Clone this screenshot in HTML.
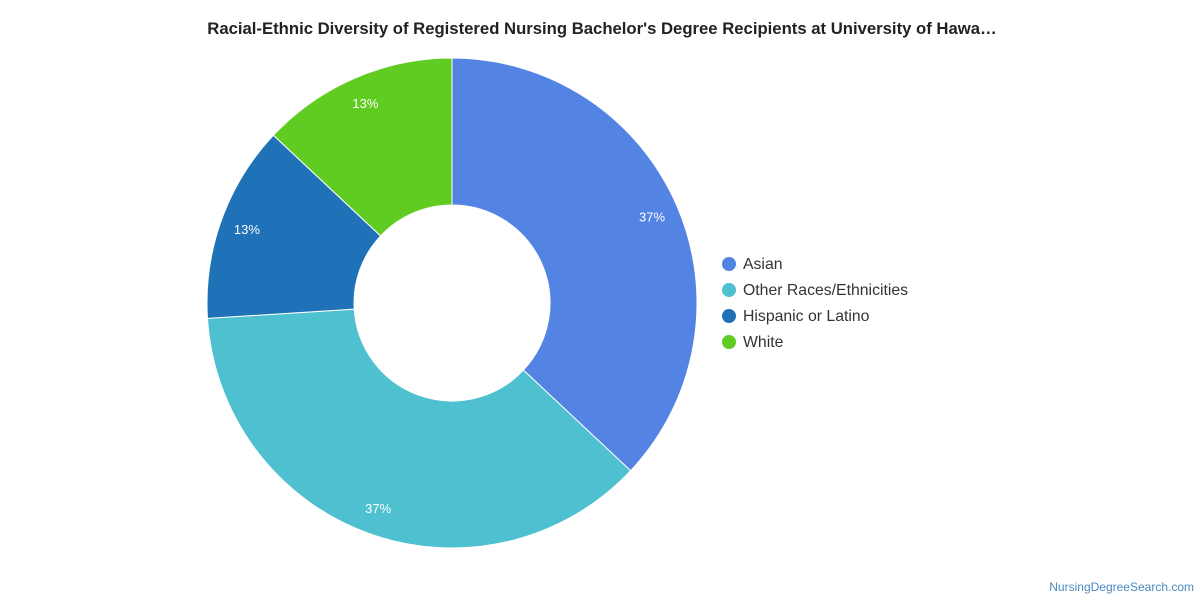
<!DOCTYPE html>
<html><head><meta charset="utf-8"><style>
body{margin:0;background:#fff;font-family:"Liberation Sans",sans-serif;}
svg{display:block}
</style></head><body>
<svg width="1200" height="600">
<text x="602" y="34" text-anchor="middle" font-size="16.7" font-weight="bold" fill="#222">Racial-Ethnic Diversity of Registered Nursing Bachelor's Degree Recipients at University of Hawa…</text>
<g id="slices"></g>
<g id="labels"></g>
<g id="legend"></g>
<text x="1194" y="591" text-anchor="end" font-size="12" fill="#4a8ac2">NursingDegreeSearch.com</text>
</svg>
<script>
const categories=["Asian","Other Races/Ethnicities","Hispanic or Latino","White"];
const values=[37,37,13,13];
const colors=["#5484e3","#4fc0cf","#1f72b8","#60cc22"];
const cx=452,cy=303,R=245,r=98,LR=218;
const ns="http://www.w3.org/2000/svg";
const total=values.reduce((a,b)=>a+b,0);
function pt(a,rad){return [cx+rad*Math.sin(a),cy-rad*Math.cos(a)];}
let a0=0;
const sg=document.getElementById('slices'),lg=document.getElementById('labels'),leg=document.getElementById('legend');
values.forEach((v,i)=>{
 const a1=a0+v/total*2*Math.PI;
 const large=(a1-a0)>Math.PI?1:0;
 const [x0,y0]=pt(a0,R),[x1,y1]=pt(a1,R),[x2,y2]=pt(a1,r),[x3,y3]=pt(a0,r);
 const p=document.createElementNS(ns,'path');
 p.setAttribute('d',`M${x0},${y0}A${R},${R} 0 ${large} 1 ${x1},${y1}L${x2},${y2}A${r},${r} 0 ${large} 0 ${x3},${y3}Z`);
 p.setAttribute('fill',colors[i]);p.setAttribute('stroke','#fff');p.setAttribute('stroke-width','1');
 
 
 sg.appendChild(p);
 const [lx,ly]=pt((a0+a1)/2,LR);
 const t=document.createElementNS(ns,'text');
 t.setAttribute('x',lx);t.setAttribute('y',ly+5);t.setAttribute('text-anchor','middle');
 t.setAttribute('font-size','13');t.setAttribute('fill','#fff');
 t.textContent=Math.round(v/total*100)+'%';
 
 
 lg.appendChild(t);
 const c=document.createElementNS(ns,'circle');
 c.setAttribute('cx',729);c.setAttribute('cy',264+i*26);c.setAttribute('r',7);c.setAttribute('fill',colors[i]);
 
 
 leg.appendChild(c);
 const lt=document.createElementNS(ns,'text');
 lt.setAttribute('x',743);lt.setAttribute('y',269+i*26);lt.setAttribute('font-size','15.8');lt.setAttribute('fill','#333');
 lt.textContent=categories[i];
 
 
 leg.appendChild(lt);
 a0=a1;
});
</script>
</body></html>
